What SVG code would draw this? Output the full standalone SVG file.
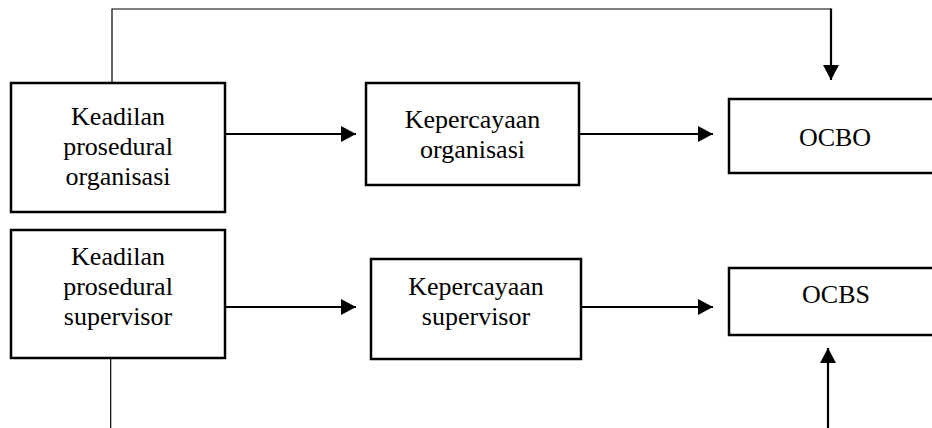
<svg xmlns="http://www.w3.org/2000/svg" width="932" height="428" viewBox="0 0 932 428">
  <style>
    .box { fill: #fff; stroke: #000; stroke-width: 2.5; }
    .lbl { font-family: "Liberation Serif", "Times New Roman", serif; font-size: 26px; fill: #000; text-anchor: middle; }
    .thin { fill: none; stroke: #000; stroke-width: 1.2; }
    .arr { fill: none; stroke: #000; stroke-width: 2.2; }
  </style>
  <defs>
    <marker id="ah" markerUnits="userSpaceOnUse" markerWidth="16" markerHeight="16" viewBox="0 0 15 16" refX="15" refY="8" orient="auto">
      <path d="M0,0 L15,8 L0,16 z" fill="#000"/>
    </marker>
  </defs>
  <rect width="932" height="428" fill="#fff"/>

  <g id="connectors">
    <polyline class="thin" points="112,83 112,9 831,9"/>
    <line class="arr" x1="831" y1="8.5" x2="831" y2="80" marker-end="url(#ah)"/>
    <line class="arr" x1="225" y1="134" x2="356" y2="134" marker-end="url(#ah)"/>
    <line class="arr" x1="579" y1="134" x2="713" y2="134" marker-end="url(#ah)"/>
    <line class="arr" x1="225" y1="307" x2="356" y2="307" marker-end="url(#ah)"/>
    <line class="arr" x1="581" y1="307" x2="713" y2="307" marker-end="url(#ah)"/>
    <line class="thin" x1="110.7" y1="358" x2="110.7" y2="428"/>
    <line class="arr" x1="828" y1="428" x2="828" y2="348" marker-end="url(#ah)"/>
  </g>

  <g id="kpo">
    <rect class="box" x="11" y="83" width="214" height="129"/>
    <text class="lbl" x="118" y="125">Keadilan</text>
    <text class="lbl" x="118" y="155">prosedural</text>
    <text class="lbl" x="118" y="185">organisasi</text>
  </g>

  <g id="ko">
    <rect class="box" x="366" y="83" width="213" height="102"/>
    <text class="lbl" x="472.5" y="128">Kepercayaan</text>
    <text class="lbl" x="472.5" y="158">organisasi</text>
  </g>

  <g id="ocbo">
    <rect class="box" x="729" y="99" width="220" height="74"/>
    <text class="lbl" x="835" y="146">OCBO</text>
  </g>

  <g id="kps">
    <rect class="box" x="11" y="230" width="214" height="128"/>
    <text class="lbl" x="118" y="265">Keadilan</text>
    <text class="lbl" x="118" y="295">prosedural</text>
    <text class="lbl" x="118" y="325">supervisor</text>
  </g>

  <g id="ks">
    <rect class="box" x="371" y="259" width="210" height="100"/>
    <text class="lbl" x="476" y="295">Kepercayaan</text>
    <text class="lbl" x="476" y="325">supervisor</text>
  </g>

  <g id="ocbs">
    <rect class="box" x="729" y="268" width="220" height="67"/>
    <text class="lbl" x="836" y="303">OCBS</text>
  </g>
</svg>
